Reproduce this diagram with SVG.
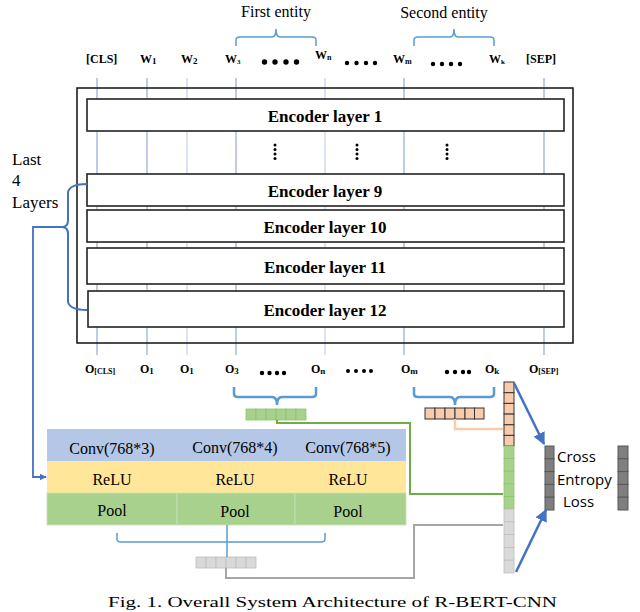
<svg xmlns="http://www.w3.org/2000/svg" width="640" height="612" viewBox="0 0 640 612">
<style>
.serif{font-family:"Liberation Serif","Times New Roman",serif;fill:#000}
.tok{font-family:"Liberation Serif","Times New Roman",serif;font-weight:bold;font-size:12px;fill:#000}
.enc{font-family:"Liberation Serif","Times New Roman",serif;font-weight:bold;font-size:17px;fill:#000;text-anchor:middle}
.encbox{fill:#fff;stroke:#222;stroke-width:1.6}
.vline{stroke:#8FAADC;stroke-width:1.2}
.vlight{stroke:#C5D3EC;stroke-width:1.2}
.brace{fill:none;stroke:#5B9BD5;stroke-width:1.5}
.brace2{fill:none;stroke:#5B9BD5;stroke-width:2.5}
.sans{font-family:"Open Sans","DejaVu Sans",sans-serif;font-size:15px;fill:#000}
.conv{font-family:"Liberation Serif","Times New Roman",serif;font-size:16px;fill:#000;text-anchor:middle}
</style>
<defs>
<marker id="arrow" viewBox="0 0 10 10" refX="9" refY="5" markerWidth="5" markerHeight="5" orient="auto-start-reverse">
<path d="M0,0 L10,5 L0,10 z" fill="#4472C4"/>
</marker>
<marker id="arrowS" viewBox="0 0 10 10" refX="9" refY="5" markerWidth="4" markerHeight="4" orient="auto">
<path d="M0,0 L10,5 L0,10 z" fill="#4472C4"/>
</marker>
</defs>
<rect width="640" height="612" fill="#fff"/>

<g id="entity-labels">
<text class="serif" x="276" y="17" font-size="16" text-anchor="middle">First entity</text>
<text class="serif" x="444" y="18" font-size="16" text-anchor="middle">Second entity</text>
<path class="brace" d="M236,46 L236,40 Q236,37 240,37 L272,37 Q276,37 276,29 Q276,37 280,37 L312,37 Q316,37 316,40 L316,46"/>
<path class="brace" d="M414,46 L414,40 Q414,37 418,37 L450,37 Q454,37 454,29 Q454,37 458,37 L490,37 Q494,37 494,40 L494,46"/>
</g>

<g id="tokens">
<text class="tok" x="86" y="63" font-size="11">[CLS]</text>
<text class="tok" x="140" y="63">W<tspan font-size="9" dy="1">1</tspan></text>
<text class="tok" x="181" y="63">W<tspan font-size="9" dy="1">2</tspan></text>
<text class="tok" x="225" y="63">W<tspan font-size="7" dy="1">3</tspan></text>
<g fill="#000"><circle cx="264.5" cy="62" r="2.7"/><circle cx="275" cy="62" r="2.7"/><circle cx="286" cy="62" r="2.7"/><circle cx="296.5" cy="62" r="2.7"/></g>
<text class="tok" x="315" y="59">W<tspan font-size="8" dy="1">n</tspan></text>
<g fill="#000"><circle cx="347" cy="63" r="2.2"/><circle cx="356.5" cy="63" r="2.2"/><circle cx="366" cy="63" r="2.2"/><circle cx="375" cy="63" r="2.2"/></g>
<text class="tok" x="393" y="63">W<tspan font-size="8" dy="1">m</tspan></text>
<g fill="#000"><circle cx="433" cy="64" r="2.2"/><circle cx="442" cy="64" r="2.2"/><circle cx="451" cy="64" r="2.2"/><circle cx="460" cy="64" r="2.2"/></g>
<text class="tok" x="489" y="63">W<tspan font-size="7" dy="1">k</tspan></text>
<text class="tok" x="526" y="63" font-size="11">[SEP]</text>
</g>

<g id="token-lines">
<line class="vline" x1="97" y1="78" x2="97" y2="355"/>
<line class="vline" x1="147" y1="78" x2="147" y2="355"/>
<line class="vlight" x1="187" y1="78" x2="187" y2="355"/>
<line class="vline" x1="236" y1="78" x2="236" y2="355"/>
<line class="vlight" x1="325" y1="78" x2="325" y2="355"/>
<line class="vline" x1="404" y1="78" x2="404" y2="355"/>
<line class="vline" x1="544" y1="78" x2="544" y2="355"/>
</g>

<g id="bert">
<rect x="77" y="88" width="496" height="255" fill="none" stroke="#111" stroke-width="1.5"/>
<g id="enc1"><rect class="encbox" x="87" y="99" width="477" height="32"/><text class="enc" x="325" y="122">Encoder layer 1</text></g>
<g id="vdots" fill="#000">
<circle cx="275" cy="145" r="1.5"/><circle cx="275" cy="149.5" r="1.5"/><circle cx="275" cy="154" r="1.5"/><circle cx="275" cy="158.5" r="1.5"/>
<circle cx="357" cy="145" r="1.5"/><circle cx="357" cy="149.5" r="1.5"/><circle cx="357" cy="154" r="1.5"/><circle cx="357" cy="158.5" r="1.5"/>
<circle cx="447" cy="145" r="1.5"/><circle cx="447" cy="149.5" r="1.5"/><circle cx="447" cy="154" r="1.5"/><circle cx="447" cy="158.5" r="1.5"/>
</g>
<g id="enc9"><rect class="encbox" x="87" y="174" width="477" height="32"/><text class="enc" x="325" y="197">Encoder layer 9</text></g>
<g id="enc10"><rect class="encbox" x="87" y="210" width="477" height="32"/><text class="enc" x="325" y="233">Encoder layer 10</text></g>
<g id="enc11"><rect class="encbox" x="87" y="248" width="477" height="36" stroke="#888"/><text class="enc" x="325" y="273">Encoder layer 11</text></g>
<g id="enc12"><rect class="encbox" x="88" y="291" width="476" height="36"/><text class="enc" x="325" y="316">Encoder layer 12</text></g>
</g>

<g id="last4">
<text class="serif" x="12" y="165" font-size="17">Last</text>
<text class="serif" x="12" y="186" font-size="17">4</text>
<text class="serif" x="12" y="208" font-size="17">Layers</text>
</g>

<g id="outputs">
<text class="tok" x="85" y="373" font-size="13">O<tspan font-size="8" dy="1">[CLS]</tspan></text>
<text class="tok" x="140" y="373" font-size="13">O<tspan font-size="9" dy="1">1</tspan></text>
<text class="tok" x="180" y="373" font-size="13">O<tspan font-size="9" dy="1">1</tspan></text>
<text class="tok" x="225" y="373" font-size="13">O<tspan font-size="9" dy="1">3</tspan></text>
<g fill="#000"><circle cx="262" cy="373" r="2.2"/><circle cx="269.5" cy="373" r="2.2"/><circle cx="277" cy="373" r="2.2"/><circle cx="284" cy="373" r="2.2"/></g>
<text class="tok" x="311" y="373" font-size="13">O<tspan font-size="9" dy="1">n</tspan></text>
<g fill="#000"><circle cx="348" cy="371" r="2"/><circle cx="356" cy="371" r="2"/><circle cx="364" cy="371" r="2"/><circle cx="371" cy="371" r="2"/></g>
<text class="tok" x="401" y="373" font-size="13">O<tspan font-size="9" dy="1">m</tspan></text>
<g fill="#000"><circle cx="447" cy="372" r="2.2"/><circle cx="455" cy="372" r="2.2"/><circle cx="463" cy="372" r="2.2"/><circle cx="469" cy="372" r="2.2"/></g>
<text class="tok" x="485" y="373" font-size="13">O<tspan font-size="9" dy="1">k</tspan></text>
<text class="tok" x="529" y="373" font-size="13">O<tspan font-size="8" dy="1">[SEP]</tspan></text>
</g>

<g id="cnn">
<rect x="47" y="429" width="359" height="32" fill="#B4C7E7"/>
<rect x="47" y="461" width="359" height="32" fill="#FFE699"/>
<rect x="47" y="493" width="130" height="32" fill="#A9D18E" stroke="#C5E0B4" stroke-width="0.8"/>
<rect x="177" y="493" width="118" height="32" fill="#A9D18E" stroke="#C5E0B4" stroke-width="0.8"/>
<rect x="295" y="493" width="111" height="32" fill="#A9D18E" stroke="#C5E0B4" stroke-width="0.8"/>
<text class="conv" x="112" y="454" font-size="18">Conv(768*3)</text>
<text class="conv" x="235" y="453">Conv(768*4)</text>
<text class="conv" x="348" y="453">Conv(768*5)</text>
<text class="conv" x="112" y="485" font-size="17">ReLU</text>
<text class="conv" x="235" y="485" font-size="17">ReLU</text>
<text class="conv" x="348" y="485" font-size="17">ReLU</text>
<text class="conv" x="112" y="516" font-size="17">Pool</text>
<text class="conv" x="235" y="517" font-size="17">Pool</text>
<text class="conv" x="348" y="517" font-size="17">Pool</text>
</g>

<g id="vec-entity1" fill="#A9D18E" stroke="#8CC56F" stroke-width="0.8">
<rect x="246" y="409" width="10" height="11"/><rect x="256" y="409" width="10" height="11"/><rect x="266" y="409" width="10" height="11"/><rect x="276" y="409" width="10" height="11"/><rect x="286" y="409" width="10" height="11"/><rect x="296" y="409" width="10" height="11"/>
</g>
<g id="vec-entity2" fill="#F8CBAD" stroke="#333" stroke-width="1">
<rect x="425" y="408" width="10" height="11"/><rect x="435" y="408" width="10" height="11"/><rect x="445" y="408" width="10" height="11"/><rect x="455" y="408" width="10" height="11"/><rect x="465" y="408" width="9.5" height="11"/><rect x="474.5" y="408" width="9.5" height="11"/>
</g>
<g id="vec-cnn" fill="#D9D9D9" stroke="#BFBFBF" stroke-width="0.8">
<rect x="196" y="557" width="10" height="11"/><rect x="206" y="557" width="10" height="11"/><rect x="216" y="557" width="10" height="11"/><rect x="226" y="557" width="10" height="11"/><rect x="236" y="557" width="10" height="11"/><rect x="246" y="557" width="10" height="11"/>
</g>

<g id="concat">
<g fill="#F8CBAD" stroke="#333" stroke-width="1">
<rect x="504" y="382" width="10" height="10.7"/><rect x="504" y="392.7" width="10" height="10.7"/><rect x="504" y="403.4" width="10" height="10.7"/><rect x="504" y="414.1" width="10" height="10.7"/><rect x="504" y="424.8" width="10" height="10.6"/><rect x="504" y="435.4" width="10" height="10.6"/>
</g>
<g fill="#A9D18E" stroke="#8CC56F" stroke-width="0.8">
<rect x="504" y="446" width="10" height="12.6"/><rect x="504" y="458.6" width="10" height="12.6"/><rect x="504" y="471.2" width="10" height="12.6"/><rect x="504" y="483.8" width="10" height="12.6"/><rect x="504" y="496.4" width="10" height="12.6"/>
</g>
<g fill="#D9D9D9" stroke="#BFBFBF" stroke-width="0.8">
<rect x="504" y="509" width="10" height="12.8"/><rect x="504" y="521.8" width="10" height="12.8"/><rect x="504" y="534.6" width="10" height="12.8"/><rect x="504" y="547.4" width="10" height="12.8"/><rect x="504" y="560.2" width="10" height="12.8"/>
</g>
</g>

<g id="loss">
<g fill="#7F7F7F" stroke="#595959" stroke-width="1">
<rect x="545" y="446" width="9" height="12.8"/><rect x="545" y="458.8" width="9" height="12.8"/><rect x="545" y="471.6" width="9" height="12.8"/><rect x="545" y="484.4" width="9" height="12.8"/><rect x="545" y="497.2" width="9" height="12.8"/>
<rect x="618" y="446" width="10" height="12.8"/><rect x="618" y="458.8" width="10" height="12.8"/><rect x="618" y="471.6" width="10" height="12.8"/><rect x="618" y="484.4" width="10" height="12.8"/><rect x="618" y="497.2" width="10" height="12.8"/>
</g>
<text class="sans" x="557" y="462">Cross</text>
<text class="sans" x="557" y="485">Entropy</text>
<text class="sans" x="563" y="507">Loss</text>
</g>

<g id="connectors">
<path d="M87,184 Q70,184 68,192 L68,220 Q68,227 62,227 Q68,227 68,234 L68,302 Q70,310 87,310" fill="none" stroke="#4472C4" stroke-width="2"/>
<path d="M62,227 L33,227 L33,477 L46,477" fill="none" stroke="#4472C4" stroke-width="1.8" marker-end="url(#arrowS)"/>
<path class="brace2" d="M234,387 L234,394 Q234,397 238,397 L272,397 Q277,397 277,405 Q277,397 282,397 L312,397 Q316,397 316,394 L316,387"/>
<path class="brace2" d="M414,387 L414,394 Q414,397 418,397 L450,397 Q455,397 455,405 Q455,397 460,397 L490,397 Q494,397 494,394 L494,387"/>
<path class="brace" d="M117,533 L117,539 Q117,542 121,542 L321,542 Q325,542 325,539 L325,533"/>
<line x1="227" y1="525" x2="227" y2="557" stroke="#5B9BD5" stroke-width="1.5"/>
<path d="M277,420 L277,423 L410,423 L410,494 L503,494" fill="none" stroke="#70AD47" stroke-width="2"/>
<path d="M455,419 L455,429 L503,429" fill="none" stroke="#F8CBAD" stroke-width="2.5"/>
<path d="M226,568 L226,578 L414,578 L414,525 L503,525" fill="none" stroke="#A6A6A6" stroke-width="2"/>
<line x1="514" y1="383" x2="544" y2="444" stroke="#4472C4" stroke-width="2.5" marker-end="url(#arrow)"/>
<line x1="516" y1="572" x2="546" y2="510" stroke="#4472C4" stroke-width="2.5" marker-end="url(#arrow)"/>
</g>

<text class="serif" x="108" y="607" font-size="15" fill="#555" textLength="449" lengthAdjust="spacingAndGlyphs">Fig. 1. Overall System Architecture of R-BERT-CNN</text>
</svg>
